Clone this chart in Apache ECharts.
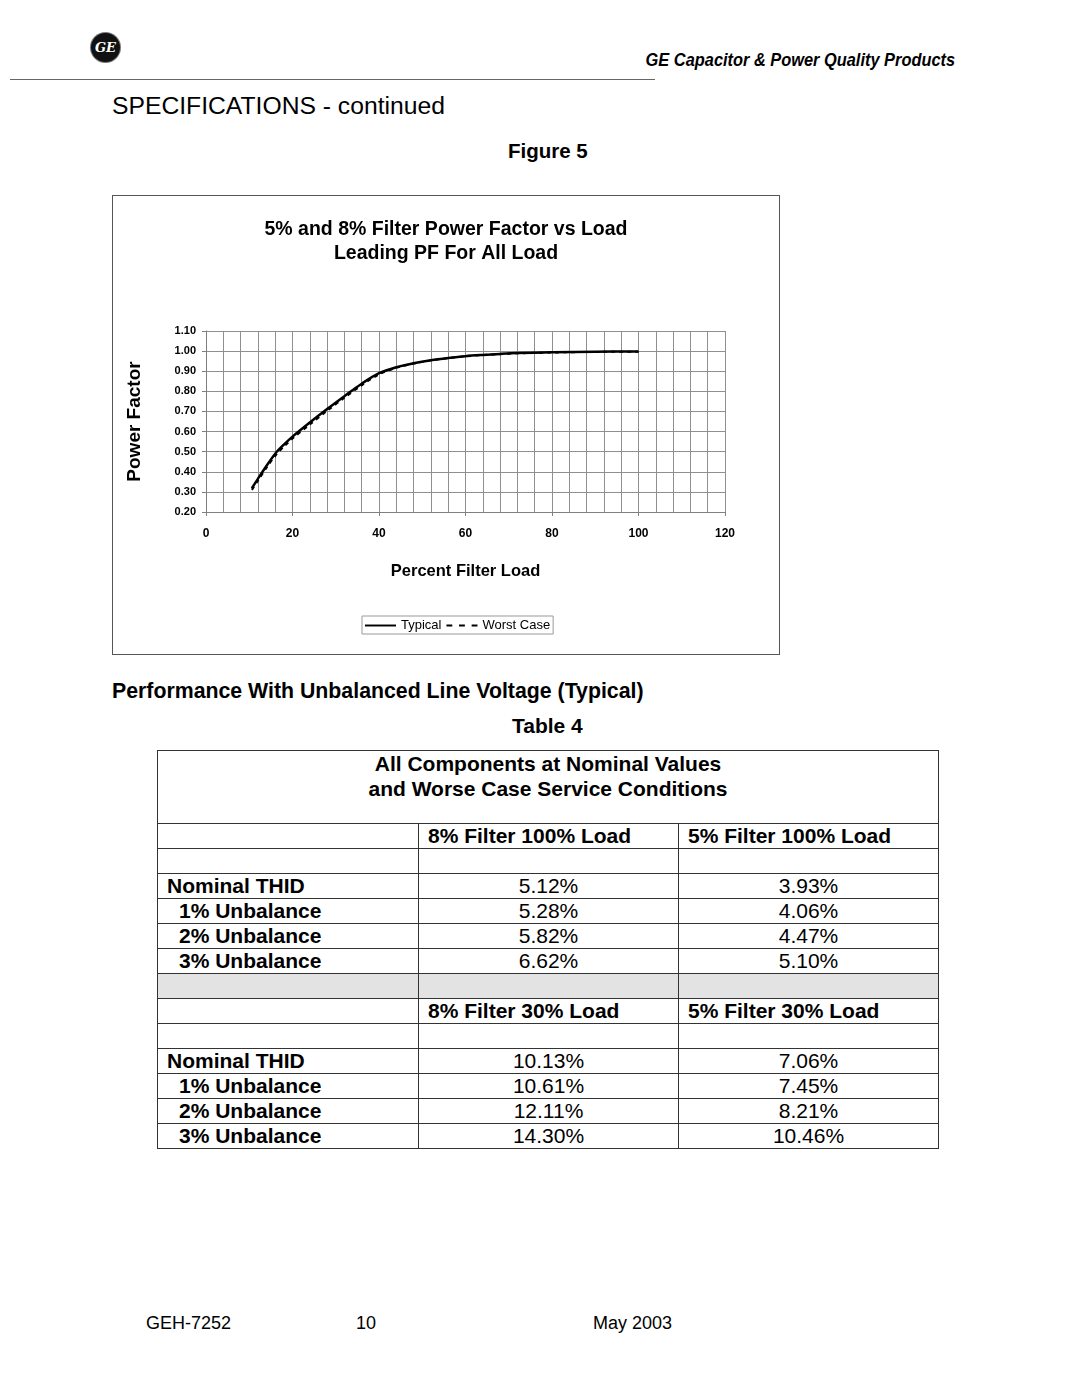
<!DOCTYPE html>
<html>
<head>
<meta charset="utf-8">
<script src="https://cdn.jsdelivr.net/npm/echarts@6/dist/echarts.min.js"></script>
<style>
  html, body { margin: 0; padding: 0; background: #fff; }
  body { width: 1080px; height: 1397px; position: relative; overflow: hidden;
         font-family: "Liberation Sans", Arial, Helvetica, sans-serif; color: #000; }
  .abs { position: absolute; white-space: nowrap; }
  #logo { left: 91px; top: 33px; width: 29px; height: 29px; border-radius: 50%;
          background: #111; color: #fff; font: italic bold 13px "DejaVu Serif", serif;
          line-height: 29px; text-align: center; box-shadow: 0 0 0 1px #777; }
  #rule { left: 10px; top: 79px; width: 645px; height: 0; border-top: 1.5px solid #666; }
  #brand { right: 125px; top: 49px; font: italic bold 18px "Liberation Sans", Arial, sans-serif; line-height: 22px;
           transform: scaleX(0.91); transform-origin: right center; }
  #spec { left: 112px; top: 91px; font-size: 24.7px; line-height: 30px; }
  #fig { left: 508px; top: 139px; font-weight: bold; font-size: 20.5px; line-height: 24px; }
  #chartBox { left: 112px; top: 195px; width: 668px; height: 460px; border: 1px solid #555; box-sizing: border-box; }
  #chart { width: 666px; height: 458px; }
  #perf { left: 112px; top: 679px; font-weight: bold; font-size: 21.3px; line-height: 24px; }
  #tbl4 { left: 512px; top: 714px; font-weight: bold; font-size: 21px; line-height: 24px; }
  #thid { left: 157px; top: 750px; border-collapse: collapse; font-size: 21px; }
  #thid td { border: 1px solid #333; padding: 0; height: 24px; line-height: 24px; }
  #thid td.lab { font-weight: bold; padding-left: 9px; }
  #thid td.lab.ind { padding-left: 21px; }
  #thid td.hd { font-weight: bold; padding-left: 9px; }
  #thid td.val { text-align: center; }
  #thid tr.gray td { background: #e3e3e3; }
  #thid td.top { height: 72px; vertical-align: top; text-align: center; font-weight: bold; line-height: 25px; }
  .foot { top: 1312px; font-size: 18px; line-height: 22px; }
</style>
</head>
<body>
<div class="abs" id="logo">GE</div>
<div class="abs" id="rule"></div>
<div class="abs" id="brand">GE Capacitor &amp; Power Quality Products</div>
<div class="abs" id="spec">SPECIFICATIONS - continued</div>
<div class="abs" id="fig">Figure 5</div>
<div class="abs" id="chartBox"><div id="chart"></div></div>
<div class="abs" id="perf">Performance With Unbalanced Line Voltage (Typical)</div>
<div class="abs" id="tbl4">Table 4</div>
<table class="abs" id="thid"></table>
<div class="abs foot" style="left:146px">GEH-7252</div>
<div class="abs foot" style="left:356px">10</div>
<div class="abs foot" style="left:593px">May 2003</div>

<script>
// ---------- Chart data ----------
const chartTitle = "5% and 8% Filter Power Factor vs Load\nLeading PF For All Load";
const xAxisName = "Percent Filter Load";
const yAxisName = "Power Factor";
const seriesNames = ["Typical", "Worst Case"];
const loadPct   = [10.6, 12, 14, 16, 18, 20, 24, 28, 32, 36, 40, 44, 48, 52, 56, 60, 64, 68, 72, 80, 90, 100];
const pfTypical = [0.318, 0.365, 0.43, 0.49, 0.535, 0.575, 0.645, 0.712, 0.776, 0.838, 0.89, 0.92, 0.94, 0.955, 0.966, 0.975, 0.981, 0.986, 0.99, 0.994, 0.997, 0.998];
const pfWorst   = [0.31, 0.355, 0.42, 0.478, 0.525, 0.565, 0.635, 0.703, 0.768, 0.83, 0.884, 0.917, 0.938, 0.954, 0.965, 0.974, 0.98, 0.985, 0.989, 0.993, 0.996, 0.997];

// ---------- Table data ----------
const tableHeader = ["All Components at Nominal Values", "and Worse Case Service Conditions"];
const rowLabels = ["Nominal THID", "1% Unbalance", "2% Unbalance", "3% Unbalance"];
const head100 = ["8% Filter 100% Load", "5% Filter 100% Load"];
const thid8_100 = ["5.12%", "5.28%", "5.82%", "6.62%"];
const thid5_100 = ["3.93%", "4.06%", "4.47%", "5.10%"];
const head30 = ["8% Filter 30% Load", "5% Filter 30% Load"];
const thid8_30 = ["10.13%", "10.61%", "12.11%", "14.30%"];
const thid5_30 = ["7.06%", "7.45%", "8.21%", "10.46%"];

// ---------- Build table ----------
(function () {
  const t = document.getElementById('thid');
  let h = '<colgroup><col style="width:261px"><col style="width:260px"><col style="width:260px"></colgroup>';
  h += '<tr><td class="top" colspan="3">' + tableHeader.join('<br>') + '</td></tr>';
  function block(heads, a, b) {
    let s = '<tr><td></td><td class="hd">' + heads[0] + '</td><td class="hd">' + heads[1] + '</td></tr>';
    s += '<tr><td></td><td></td><td></td></tr>';
    rowLabels.forEach(function (lab, i) {
      s += '<tr><td class="lab' + (i ? ' ind' : '') + '">' + lab + '</td><td class="val">' + a[i] +
           '</td><td class="val">' + b[i] + '</td></tr>';
    });
    return s;
  }
  h += block(head100, thid8_100, thid5_100);
  h += '<tr class="gray"><td></td><td></td><td></td></tr>';
  h += block(head30, thid8_30, thid5_30);
  t.innerHTML = h;
})();

// ---------- Chart ----------
const FONT = '"Liberation Sans", Arial, sans-serif';
const chart = echarts.init(document.getElementById('chart'), null, { renderer: 'canvas' });
chart.setOption({
  animation: false,
  backgroundColor: '#fff',
  textStyle: { fontFamily: FONT, color: '#000' },
  title: {
    text: chartTitle, left: 328, top: 17, textAlign: 'center',
    textStyle: { fontFamily: FONT, fontWeight: 'bold', fontSize: 19.5, lineHeight: 24, color: '#000', align: 'center' }
  },
  grid: { left: 93, right: 54, top: 135, bottom: 142 },
  legend: {
    left: 249, top: 420,
    data: [
      { name: seriesNames[0], icon: 'path://M0,0H32V2H0Z', itemStyle: { color: '#000' } },
      { name: seriesNames[1], icon: 'path://M0,0H6V2H0ZM13,0H19V2H13ZM26,0H32V2H26Z', itemStyle: { color: '#000' } }
    ],
    borderColor: '#999', borderWidth: 1, padding: [3, 3, 2, 3],
    itemWidth: 31, itemHeight: 2, itemGap: 5,
    textStyle: { fontFamily: FONT, fontSize: 13, color: '#000', padding: [0, 0, 0, 0] }
  },
  xAxis: {
    type: 'value', min: 0, max: 120, interval: 20,
    name: xAxisName, nameLocation: 'middle', nameGap: 51,
    nameTextStyle: { fontFamily: FONT, fontWeight: 'bold', fontSize: 16.5, color: '#000' },
    axisLine: { show: true, lineStyle: { color: '#808080', width: 1 } },
    axisTick: { show: true, length: 4, lineStyle: { color: '#808080' } },
    axisLabel: { margin: 16, fontFamily: FONT, fontWeight: 'bold', fontSize: 12, color: '#000' },
    splitLine: { show: true, lineStyle: { color: '#8f8f8f', width: 1 } },
    minorTick: { show: false, splitNumber: 5 },
    minorSplitLine: { show: true, lineStyle: { color: '#8f8f8f', width: 1 } }
  },
  yAxis: {
    type: 'value', min: 0.2, max: 1.1, interval: 0.1,
    name: yAxisName, nameLocation: 'middle', nameGap: 62, nameRotate: 90,
    nameTextStyle: { fontFamily: FONT, fontWeight: 'bold', fontSize: 19, color: '#000' },
    axisLine: { show: true, lineStyle: { color: '#808080', width: 1 } },
    axisTick: { show: true, length: 4, lineStyle: { color: '#808080' } },
    axisLabel: { margin: 10, fontFamily: FONT, fontWeight: 'bold', fontSize: 11, color: '#000',
                 formatter: function (v) { return v.toFixed(2); } },
    splitLine: { show: true, lineStyle: { color: '#8f8f8f', width: 1 } }
  },
  series: [
    {
      name: seriesNames[0], type: 'line', smooth: 0.3, showSymbol: false,
      data: loadPct.map(function (x, i) { return [x, pfTypical[i]]; }),
      lineStyle: { color: '#000', width: 2.5, type: 'solid' },
      itemStyle: { color: '#000' }, z: 3
    },
    {
      name: seriesNames[1], type: 'line', smooth: 0.3, showSymbol: false,
      data: loadPct.map(function (x, i) { return [x, pfWorst[i]]; }),
      lineStyle: { color: '#000', width: 2, type: [4, 4] },
      itemStyle: { color: '#000' }, z: 4
    }
  ]
});
</script>
</body>
</html>
